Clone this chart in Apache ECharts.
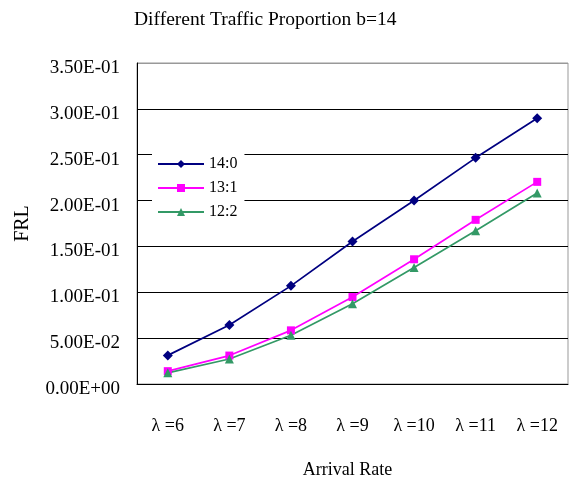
<!DOCTYPE html>
<html><head><meta charset="utf-8">
<script src="https://cdn.jsdelivr.net/npm/echarts@6/dist/echarts.min.js"></script>
<style>html,body{margin:0;padding:0;background:#fff}#c{width:574px;height:484px}</style>
</head><body><div id="c"></div>
<script>
const categories = ['λ =6','λ =7','λ =8','λ =9','λ =10','λ =11','λ =12'];
const s14_0 = [0.0312, 0.0643, 0.107, 0.1554, 0.200, 0.2466, 0.2897];
const s13_1 = [0.014, 0.031, 0.0585, 0.0948, 0.136, 0.179, 0.2204];
const s12_2 = [0.0122, 0.0273, 0.0531, 0.0876, 0.127, 0.167, 0.2082];
const yTicks = ['0.00E+00','5.00E-02','1.00E-01','1.50E-01','2.00E-01','2.50E-01','3.00E-01','3.50E-01'];
const font = 'Liberation Serif';
const chart = echarts.init(document.getElementById('c'), null, {renderer:'canvas'});
chart.setOption({
  animation:false,
  backgroundColor:'#fff',
  title:{text:'Different Traffic Proportion b=14', left:129, top:5,
    textStyle:{fontFamily:font, fontSize:19.5, fontWeight:'normal', color:'#000'}},
  grid:{left:137, right:6, top:63, bottom:96, show:true, borderColor:'#999', borderWidth:1},
  legend:{orient:'vertical', left:152, top:150, padding:[6,7,6,5], itemWidth:46, itemHeight:10, itemGap:8,
    backgroundColor:'#fff', textStyle:{fontFamily:font, fontSize:16, lineHeight:16, color:'#000'},
    data:['14:0','13:1','12:2']},
  xAxis:{type:'category', data:categories, boundaryGap:true,
    name:'Arrival Rate', nameLocation:'middle', nameGap:77,
    nameTextStyle:{fontFamily:font, fontSize:18, color:'#000', padding:[0,10,0,0]},
    axisLine:{lineStyle:{color:'#000', width:1}},
    axisTick:{inside:true, length:7, lineStyle:{color:'#000'}},
    axisLabel:{fontFamily:font, fontSize:18, color:'#000', margin:33}},
  yAxis:{type:'value', min:0, max:0.35, interval:0.05,
    name:'FRL', nameLocation:'middle', nameGap:104,
    nameTextStyle:{fontFamily:font, fontSize:20, color:'#000'},
    axisLine:{show:true, lineStyle:{color:'#000', width:1}},
    axisTick:{show:false},
    splitLine:{lineStyle:{color:['#000','#000','#000','#000','#000','#000','#000','#999'], width:1}},
    axisLabel:{fontFamily:font, fontSize:19, color:'#000', margin:17, verticalAlign:'top', lineHeight:10,
      formatter:function(v){ return yTicks[Math.round(v/0.05)]; }}},
  series:[
    {name:'14:0', type:'line', data:s14_0, symbol:'diamond', symbolSize:10,
      itemStyle:{color:'#000080'}, lineStyle:{color:'#000080', width:1.7}},
    {name:'13:1', type:'line', data:s13_1, symbol:'rect', symbolSize:8,
      itemStyle:{color:'#ff00ff'}, lineStyle:{color:'#ff00ff', width:1.7}},
    {name:'12:2', type:'line', data:s12_2, symbol:'triangle', symbolSize:9,
      itemStyle:{color:'#339966'}, lineStyle:{color:'#339966', width:1.7}}
  ]
});
</script></body></html>
